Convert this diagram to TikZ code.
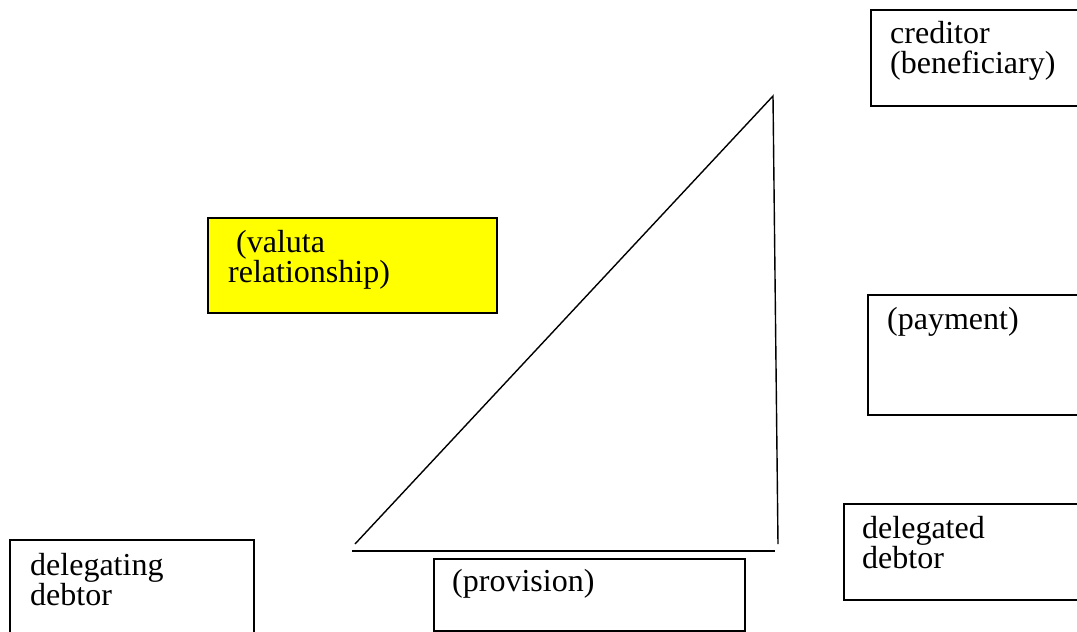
\documentclass[tikz,border=0pt]{standalone}
\usepackage{fontspec}
\setmainfont{Liberation Serif}
\usetikzlibrary{calc}

\begin{document}
\begin{tikzpicture}[x=1pt, y=-1pt,
    box/.style={draw, line width=1.6pt, anchor=north west, inner sep=0pt},
    txt/.style={anchor=base west, inner sep=0pt, align=left, font=\fontsize{32}{30}\selectfont}]
    \useasboundingbox (0,0) rectangle (1077,632);

    % boxes
    \node[box, minimum width=260pt, minimum height=96pt] (cred) at (870,9) {};
    \node[box, fill={rgb,255:red,255;green,255;blue,0}, minimum width=289pt, minimum height=95pt] (valuta) at (207,217) {};
    \node[box, minimum width=260pt, minimum height=120pt] (payment) at (867,294) {};
    \node[box, minimum width=260pt, minimum height=96pt] (delegated) at (843,503) {};
    \node[box, minimum width=244pt, minimum height=120pt] (delegating) at (9,539) {};
    \node[box, minimum width=311pt, minimum height=72pt] (provision) at (433,558) {};

    % labels (base = last line)
    \node[txt] (credT) at (890,73) {creditor\\(beneficiary)};
    \node[txt] (valutaT) at (228,282) {\hspace*{8pt}(valuta\\relationship)};
    \node[txt] (paymentT) at (887,329) {(payment)};
    \node[txt] (delegatedT) at (862,568) {delegated\\debtor};
    \node[txt] (delegatingT) at (30,605) {delegating\\debtor};
    \node[txt] (provisionT) at (452,591) {(provision)};

    % triangle
    \coordinate (A) at (355,544);
    \coordinate (B) at (773,96);
    \coordinate (C) at (778,544);
    \coordinate (L) at (352,551);
    \coordinate (R) at (775,551);

    \draw[line width=1.4pt] (A) -- (B) -- (C);
    \draw[line width=1.4pt] (L) -- (R);
\end{tikzpicture}
\end{document}
